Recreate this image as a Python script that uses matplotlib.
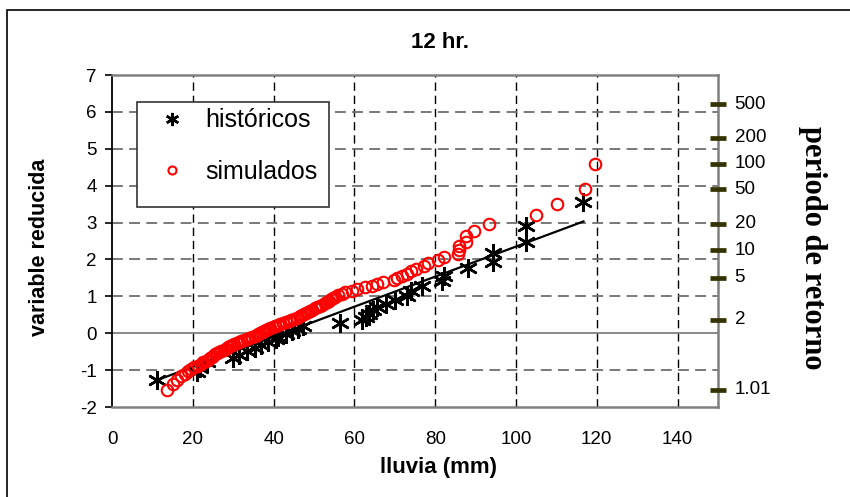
import numpy as np
import matplotlib
matplotlib.use("Agg")
import matplotlib.pyplot as plt
from matplotlib.patches import Rectangle

plt.rcParams['font.family'] = ['Liberation Sans', 'DejaVu Sans']
plt.rcParams['axes.unicode_minus'] = False

# Historical annual maxima (mm) and their Gumbel reduced variate
hist_lluvia = [11.2, 21.0, 21.8, 23.5, 30.0, 31.5, 33.5, 35.5, 37.0, 38.5,
               40.5, 41.0, 43.0, 44.5, 46.0, 47.3, 56.5, 62.0, 62.8, 63.5,
               64.5, 65.7, 67.7, 70.1, 73.1, 73.9, 76.8, 81.8, 82.2, 88.2,
               94.2, 94.4, 102.4, 102.4, 116.7]
hist_var = [-1.28, -1.06, -0.93, -0.78, -0.68, -0.60, -0.49, -0.41, -0.33, -0.25,
            -0.17, -0.09, -0.02, 0.06, 0.12, 0.20, 0.29, 0.37, 0.45, 0.53,
            0.62, 0.71, 0.80, 0.90, 1.01, 1.14, 1.27, 1.42, 1.55, 1.78,
            1.93, 2.17, 2.48, 2.90, 3.57]

# Simulated series
sim_lluvia = [13.6, 15.0, 16.2, 17.2, 18.1, 18.9, 19.6, 20.4, 21.2, 22.0,
              22.6, 23.2, 23.7, 24.2, 24.7, 25.1, 25.6, 26.0, 26.6, 27.1,
              27.6, 28.1, 28.6, 29.1, 29.7, 30.3, 30.9, 31.5, 32.0, 32.6,
              33.3, 34.0, 34.7, 35.3, 35.8, 36.2, 36.7, 37.1, 37.6, 38.1,
              38.6, 39.2, 39.8, 40.4, 41.0, 41.6, 42.3, 43.0, 43.7, 44.4,
              45.1, 45.8, 46.5, 47.0, 47.5, 48.0, 48.6, 49.1, 49.6, 50.2,
              50.8, 51.5, 52.1, 52.8, 53.3, 53.8, 54.3, 54.7, 55.3, 56.0,
              56.9, 57.7, 59.4, 60.7, 62.6, 64.4, 65.7, 67.2, 69.8, 70.6,
              71.9, 73.1, 73.9, 75.2, 77.3, 78.3, 80.8, 82.3, 85.6, 85.8,
              85.9, 87.5, 87.7, 89.7, 93.2, 105.0, 110.2, 117.0, 119.5]
sim_var = [-1.527, -1.364, -1.255, -1.169, -1.097, -1.034, -0.978, -0.927, -0.879, -0.834,
           -0.792, -0.752, -0.713, -0.676, -0.640, -0.606, -0.572, -0.539, -0.507, -0.476,
           -0.445, -0.415, -0.385, -0.356, -0.327, -0.298, -0.269, -0.241, -0.213, -0.186,
           -0.158, -0.131, -0.103, -0.076, -0.049, -0.022, 0.006, 0.033, 0.060, 0.087,
           0.115, 0.142, 0.170, 0.197, 0.225, 0.253, 0.281, 0.309, 0.338, 0.367,
           0.396, 0.425, 0.455, 0.484, 0.515, 0.545, 0.576, 0.607, 0.639, 0.672,
           0.705, 0.738, 0.772, 0.807, 0.842, 0.878, 0.915, 0.953, 0.991, 1.031,
           1.071, 1.113, 1.156, 1.200, 1.246, 1.293, 1.342, 1.392, 1.445, 1.500,
           1.557, 1.617, 1.680, 1.747, 1.817, 1.892, 1.972, 2.057, 2.150, 2.250,
           2.361, 2.484, 2.623, 2.783, 2.970, 3.199, 3.491, 3.902, 4.600]

# Fitted line through the historical data (end points)
ajuste_lluvia = [11.2, 116.7]
ajuste_var = [-1.27, 3.03]

# Return periods shown on the secondary scale
periodos = [1.01, 2, 5, 10, 20, 50, 100, 200, 500]
periodo_labels = ["1.01", "2", "5", "10", "20", "50", "100", "200", "500"]

x_ticks = [0, 20, 40, 60, 80, 100, 120, 140]
y_ticks = [-2, -1, 0, 1, 2, 3, 4, 5, 6, 7]

W, H = 850, 497
fig = plt.figure(figsize=(W / 100, H / 100), dpi=100)
ax = fig.add_axes([112 / W, 1 - 407 / H, (718 - 112) / W, (407 - 75) / H])

ax.set_xlim(0, 150)
ax.set_ylim(-2, 7)

# grid
for xv in x_ticks[1:]:
    ax.axvline(xv, color='black', lw=1.0, dashes=(6, 3.5), zorder=1)
for yv in y_ticks[1:-1]:
    if yv == 0:
        ax.axhline(0, color='#808080', lw=1.3, zorder=1)
    else:
        ax.axhline(yv, color='#6e6e6e', lw=1.3, dashes=(6, 3.5), zorder=1)

ax.plot(ajuste_lluvia, ajuste_var, color='black', lw=1.6, zorder=3)
ax.plot(hist_lluvia, hist_var, linestyle='none', marker=(6, 2, 0), markersize=13.5,
        mec='black', mew=1.8, color='black', zorder=4, label='históricos')
ax.plot(sim_lluvia, sim_var, linestyle='none', marker='o', markersize=8.3,
        mfc='none', mec='#ff0000', mew=1.5, zorder=5, label='simulados')

# Return period scale at the right edge (Gumbel reduced variate)
T = np.array(periodos)
yT = -np.log(-np.log(1 - 1 / T))
ax.plot([150] * len(yT), yT, linestyle='none', marker='_', markersize=12, mew=3.4,
        color='#333300', clip_on=False, zorder=6)
for yy, lab in zip(yT, periodo_labels):
    ax.annotate(lab, xy=(150, yy), xytext=(12, 0), textcoords='offset points',
                ha='left', va='center', fontsize=13.5, family='Liberation Sans',
                annotation_clip=False)

# spines
for s in ['top', 'right', 'bottom']:
    ax.spines[s].set_color('#808080')
    ax.spines[s].set_linewidth(1.8)
ax.spines['left'].set_color('black')
ax.spines['left'].set_linewidth(1.3)

ax.set_xticks(x_ticks)
ax.set_yticks(y_ticks)
ax.tick_params(axis='x', length=0, pad=17, labelsize=13.5)
ax.tick_params(axis='y', direction='out', length=5, width=1.2, pad=6, labelsize=13.5)

# legend box and entries
ax.add_patch(Rectangle((25 / 606, 1 - 207 / 332 + 75 / 332), (329 - 137) / 606, 105 / 332,
                       transform=ax.transAxes, facecolor='white', edgecolor='#333333',
                       lw=1.2, zorder=9))
leg = ax.legend(loc='center left', bbox_to_anchor=((153 - 112) / 606, 1 - (146 - 75) / 332),
                fontsize=18, frameon=False, markerscale=0.7,
                labelspacing=1.1, handletextpad=0.6, borderpad=0,
                borderaxespad=0, handlelength=1.5)
leg.set_zorder(10)

fig.text(440 / W, 1 - 43 / H, '12 hr.', ha='center', va='center',
         fontsize=16, fontweight='bold')
fig.text(438 / W, 1 - 467 / H, 'lluvia (mm)', ha='center', va='center',
         fontsize=16, fontweight='bold')
fig.text(40 / W, 1 - 247 / H, 'variable reducida', ha='center', va='center',
         rotation=90, fontsize=15.5, fontweight='bold')
fig.text(812 / W, 1 - 248 / H, 'periodo de retorno', ha='center', va='center',
         rotation=270, fontsize=22, fontweight='bold', family='Liberation Serif')

# outer frame
fig.patches.append(Rectangle((7 / W, -0.05), 1.2, 1 - 10 / H + 0.05,
                             transform=fig.transFigure, fill=False,
                             edgecolor='black', lw=1.2))

fig.savefig('out.png', dpi=100)
